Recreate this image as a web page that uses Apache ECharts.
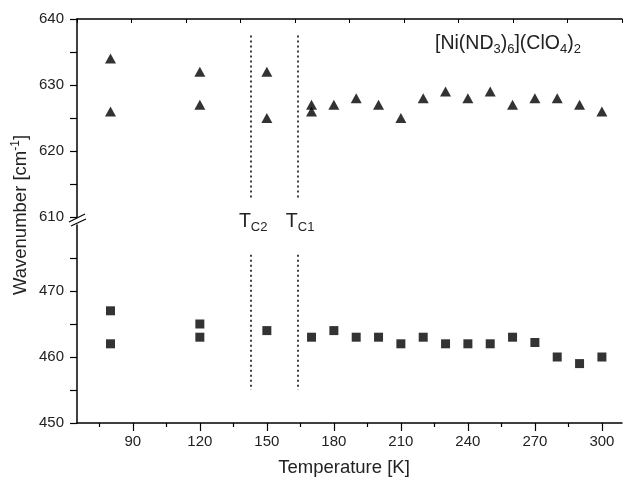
<!DOCTYPE html>
<html>
<head>
<meta charset="utf-8">
<script src="https://cdn.jsdelivr.net/npm/echarts@6/dist/echarts.min.js"></script>
<style>
  html, body { margin: 0; padding: 0; background: #fff; }
  #chart { width: 623px; height: 480px; }
</style>
</head>
<body>
<div id="chart"></div>
<script>
// upper band (triangles)
var tempHigh = [80, 80, 120, 120, 150, 150, 170, 170, 180, 190, 200, 210, 220, 230, 240, 250, 260, 270, 280, 290, 300];
var waveHigh = [634, 626, 632, 627, 632, 625, 627, 626, 627, 628, 627, 625, 628, 629, 628, 629, 627, 628, 628, 627, 626];
// lower band (squares)
var tempLow = [80, 80, 120, 120, 150, 170, 180, 190, 200, 210, 220, 230, 240, 250, 260, 270, 280, 290, 300];
var waveLow = [467, 462, 465, 463, 464, 463, 464, 463, 463, 462, 463, 462, 462, 462, 463, 462.2, 460, 459, 460];
// transition temperatures
var tcTemps = [143, 164];
var tcNames = ['C2', 'C1'];

var xMajor = [90, 120, 150, 180, 210, 240, 270, 300];
var xMinor = [75, 105, 135, 165, 195, 225, 255, 285];
var yLowLabels = [450, 460, 470];
var yLowTicks = [450, 455, 460, 465, 470, 475];

var font = 'Liberation Sans, Arial, sans-serif';
var ink = '#222';

var myChart = echarts.init(document.getElementById('chart'));

function zip(xs, ys) {
    return xs.map(function (x, i) { return [x, ys[i]]; });
}

function tcLines(y0, y1) {
    return tcTemps.map(function (t) {
        return [{ coord: [t, y0] }, { coord: [t, y1] }];
    });
}

var dotted = {
    silent: true,
    symbol: 'none',
    label: { show: false },
    lineStyle: { type: [2, 3], color: '#000', width: 1.5 }
};

var option = {
    backgroundColor: '#fff',
    animation: false,
    grid: [
        { left: 77, right: 1, top: 19, bottom: 263 },
        { left: 77, right: 1, top: 225, bottom: 57 }
    ],
    xAxis: [
        { gridIndex: 0, type: 'value', min: 65, max: 309, show: false },
        {
            gridIndex: 1, type: 'value', min: 65, max: 309, position: 'bottom',
            splitLine: { show: false },
            axisLine: { lineStyle: { color: '#000', width: 1.5 } },
            axisTick: { customValues: xMajor, length: 8, lineStyle: { color: '#000', width: 1.2 } },
            axisLabel: { customValues: xMajor, color: ink, fontSize: 15, fontFamily: font, margin: 11 }
        },
        {
            gridIndex: 1, type: 'value', min: 65, max: 309, position: 'bottom',
            splitLine: { show: false },
            axisLine: { show: false },
            axisTick: { customValues: xMinor, length: 4, lineStyle: { color: '#000', width: 1.2 } },
            axisLabel: { show: false }
        },
        {
            gridIndex: 0, type: 'value', min: 0, max: 10, interval: 1, position: 'top',
            splitLine: { show: false },
            axisLine: { lineStyle: { color: '#000', width: 1.5 } },
            axisTick: { inside: true, length: 4, lineStyle: { color: '#000', width: 1 } },
            axisLabel: { show: false }
        }
    ],
    yAxis: [
        {
            gridIndex: 0, type: 'value', min: 610, max: 640, interval: 10,
            splitLine: { show: false },
            axisLine: { show: true, lineStyle: { color: '#000', width: 1.5 } },
            axisTick: { show: true, length: 7, lineStyle: { color: '#000', width: 1.2 } },
            minorTick: { show: true, splitNumber: 2, length: 7, lineStyle: { color: '#000', width: 1.2 } },
            axisLabel: { color: ink, fontSize: 15, fontFamily: font, margin: 13 }
        },
        {
            gridIndex: 1, type: 'value', min: 450, max: 480,
            splitLine: { show: false },
            axisLine: { show: true, lineStyle: { color: '#000', width: 1.5 } },
            axisTick: { show: true, customValues: yLowTicks, length: 7, lineStyle: { color: '#000', width: 1.2 } },
            axisLabel: { customValues: yLowLabels, color: ink, fontSize: 15, fontFamily: font, margin: 13 }
        }
    ],
    series: [
        {
            type: 'scatter', xAxisIndex: 0, yAxisIndex: 0,
            symbol: 'triangle', symbolSize: [11, 10],
            itemStyle: { color: '#000' },
            data: zip(tempHigh, waveHigh),
            markLine: Object.assign({ data: tcLines(637.5, 612.5) }, dotted)
        },
        {
            type: 'scatter', xAxisIndex: 1, yAxisIndex: 1,
            symbol: 'rect', symbolSize: 9,
            itemStyle: { color: '#000' },
            data: zip(tempLow, waveLow),
            markLine: Object.assign({ data: tcLines(475.5, 455) }, dotted)
        }
    ]
};

myChart.setOption(option);

// texts and axis break
var graphics = [
    {
        type: 'text', left: 435, top: 34,
        style: {
            text: '[Ni(ND{s|3}){s|6}](ClO{s|4}){s|2}',
            font: '19.5px ' + font, fill: ink,
            rich: { s: { fontSize: 13, fontFamily: font, fill: ink, padding: [10, 0, 0, 0] } }
        }
    },
    {
        type: 'text', x: 21, y: 215, rotation: Math.PI / 2,
        style: {
            text: 'Wavenumber [cm{p|-1}]',
            font: '18.5px ' + font, fill: ink, align: 'center', verticalAlign: 'middle',
            rich: { p: { fontSize: 12, fontFamily: font, fill: ink, padding: [0, 0, 10, 0] } }
        }
    },
    {
        type: 'text', x: 344, y: 468,
        style: { text: 'Temperature [K]', font: '18.5px ' + font, fill: ink, align: 'center', verticalAlign: 'middle' }
    },
    { type: 'rect', shape: { x: 70, y: 217.5, width: 14, height: 7 }, style: { fill: '#fff' } },
    { type: 'line', shape: { x1: 69, y1: 222, x2: 85, y2: 214 }, style: { stroke: '#000', lineWidth: 1.2 } },
    { type: 'line', shape: { x1: 71, y1: 226, x2: 86, y2: 219 }, style: { stroke: '#000', lineWidth: 1.2 } }
];

tcTemps.forEach(function (t, i) {
    var px = myChart.convertToPixel({ xAxisIndex: 1 }, t);
    graphics.push({
        type: 'text', x: px + 2, y: 222,
        style: {
            text: 'T{s|' + tcNames[i] + '}',
            font: '19.5px ' + font, fill: ink, align: 'center', verticalAlign: 'middle',
            rich: { s: { fontSize: 13, fontFamily: font, fill: ink, padding: [11, 0, 0, 0] } }
        }
    });
});

myChart.setOption({ graphic: graphics });
</script>
</body>
</html>
